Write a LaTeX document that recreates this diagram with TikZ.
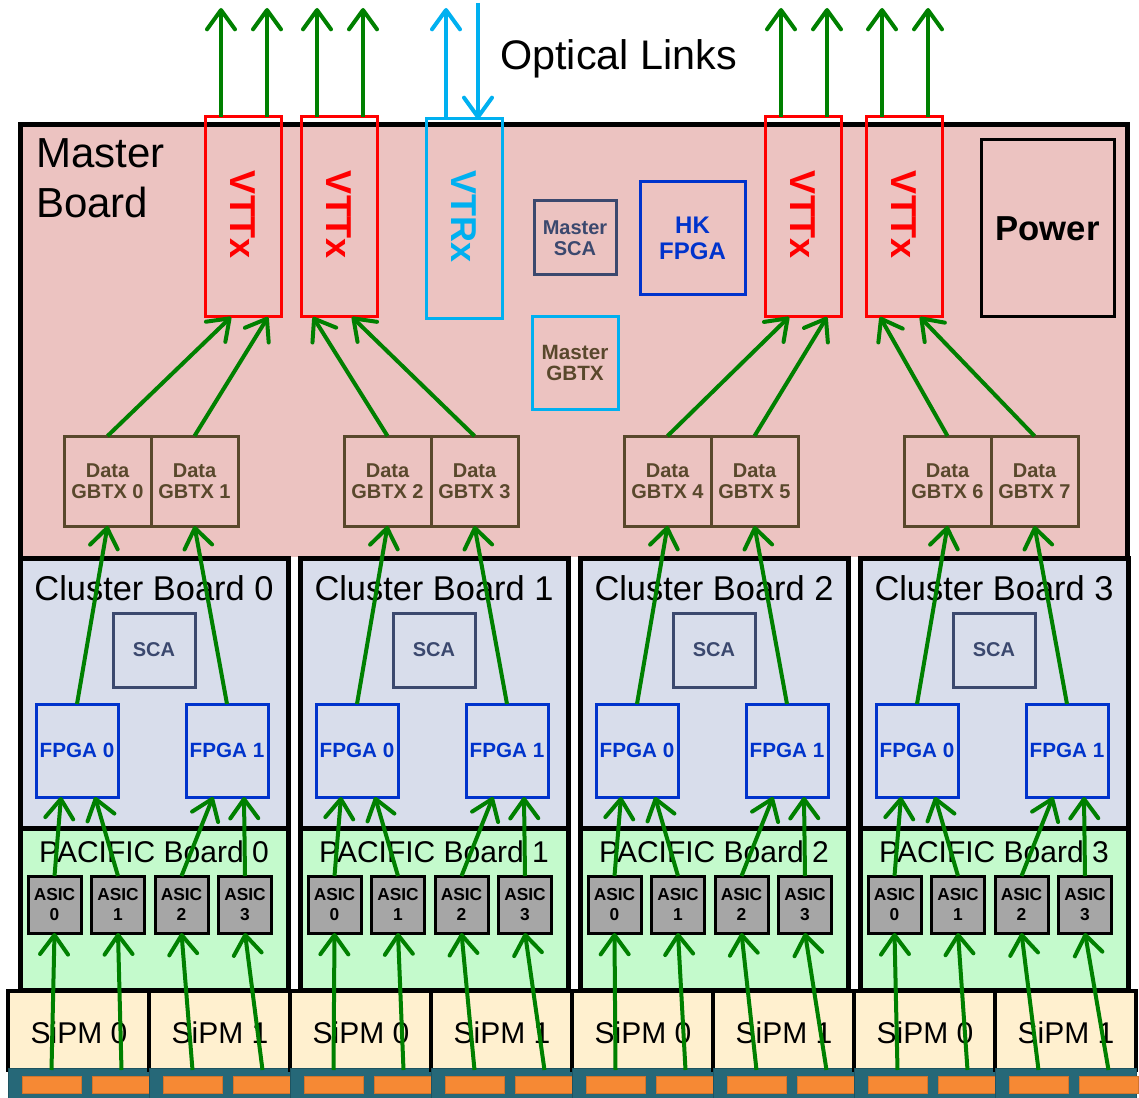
\documentclass[tikz,border=0pt]{standalone}
\usepackage{fontspec}
\setmainfont{Liberation Sans}
\usetikzlibrary{arrows.meta,calc}
\definecolor{mpink}{RGB}{236,195,193}
\definecolor{cfill}{RGB}{216,221,235}
\definecolor{pfill}{RGB}{196,250,204}
\definecolor{sfill}{RGB}{255,240,207}
\definecolor{tealc}{RGB}{38,104,120}
\definecolor{orangec}{RGB}{246,137,52}
\definecolor{asicg}{RGB}{166,166,166}
\definecolor{lgreen}{RGB}{0,128,0}
\definecolor{cyanc}{RGB}{0,176,240}
\definecolor{redc}{RGB}{255,0,0}
\definecolor{fblue}{RGB}{0,51,204}
\definecolor{slate}{RGB}{59,72,110}
\definecolor{brownc}{RGB}{89,72,44}
\begin{document}
\begin{tikzpicture}[x=0.75pt,y=-0.75pt,
  sz/.style 2 args={minimum width=#1*0.75pt, minimum height=#2*0.75pt, inner sep=0pt, outer sep=0pt},
  arr/.style={draw=lgreen, line width=3pt, -{Straight Barb[length=14.5pt,width=21pt,round]}},
  vttbox/.style={draw=redc, line width=2.25pt},
  vttlab/.style={text=redc, rotate=-90, inner sep=0pt, font=\bfseries\fontsize{27}{30}\selectfont},
  vtrlab/.style={text=cyanc, rotate=-90, inner sep=0pt, font=\bfseries\fontsize{27}{30}\selectfont},
  scabox/.style={draw=slate, line width=2.25pt, text=slate, align=center, font=\bfseries\fontsize{15}{16}\selectfont},
  fpgabox/.style={draw=fblue, line width=2.25pt, text=fblue, align=center, font=\bfseries\fontsize{15.5}{16}\selectfont},
  gbtxbox/.style={draw=brownc, line width=2.25pt, text=brownc, align=center, font=\bfseries\fontsize{15}{16}\selectfont},
  board/.style={draw=black, line width=3.75pt},
  btitle/.style={anchor=base, inner sep=0pt, font=\fontsize{25.8}{30}\selectfont},
  ptitle/.style={anchor=base, inner sep=0pt, font=\fontsize{22.5}{26}\selectfont},
  asicbox/.style={draw=black, fill=asicg, line width=2.25pt, align=center, font=\bfseries\fontsize{13}{15}\selectfont},
  sipmbox/.style={draw=black, fill=sfill, line width=3pt},
  stripbox/.style={fill=tealc, draw=tealc!80!black, line width=0.4pt},
  orbox/.style={fill=orangec, draw=orangec!85!black, line width=0.4pt}
]
\useasboundingbox (0,0) rectangle (1139,1098);

% ---------------- Master board
\fill[mpink] (20,125) rectangle (1127,557);
\draw[line width=3.75pt] (20,557) -- (20,125) -- (1127,125) -- (1127,557);
\node[anchor=base west, inner sep=0pt, font=\fontsize{31.5}{35}\selectfont] (mbt1) at (36,168) {Master};
\node[anchor=base west, inner sep=0pt, font=\fontsize{31.5}{35}\selectfont] (mbt2) at (36,218) {Board};
\node[anchor=base west, inner sep=0pt, font=\fontsize{31}{36}\selectfont] (optl) at (500,70) {Optical Links};

\foreach \n/\cx in {1/243,2/339,3/803,4/904}{
  \node[vttbox, sz={76}{200}] (v\n) at (\cx,217) {};
  \node[vttlab] (vl\n) at (\cx,215) {VTTx};
  \coordinate (vta\n) at ($(v\n.north west)+(16,-109)$);
  \coordinate (vtb\n) at ($(v\n.north west)+(62,-109)$);
}
\node[draw=cyanc, line width=2.25pt, sz={76}{200}] (vr) at (464,219) {};
\node[vtrlab] (vrl) at (464,217) {VTRx};
\coordinate (vrup) at (446,8);
\coordinate (vrdn) at (478,3);

\node[scabox, sz={82}{74}] (msca) at (575,238) {Master\\SCA};
\node[draw=fblue, line width=2.25pt, text=fblue, align=center, sz={105}{113}, font=\bfseries\fontsize{18}{19}\selectfont] (hk) at (692.5,238.5) {HK\\FPGA};
\node[draw=cyanc, line width=2.25pt, text=brownc, align=center, sz={86}{92}, font=\bfseries\fontsize{15.5}{16}\selectfont] (mgbtx) at (575,363) {Master\\GBTX};
\node[draw=black, line width=2.25pt, sz={133}{177}, font=\bfseries\fontsize{26}{30}\selectfont] (pwr) at (1047.5,228.5) {Power};

\foreach \j in {0,...,3}{
  \pgfmathsetmacro\xg{64+280*\j}
  \pgfmathtruncatemacro\ga{2*\j}
  \pgfmathtruncatemacro\gb{2*\j+1}
  \node[gbtxbox, sz={87}{90}] (g\ga) at (\xg+43.5,481) {Data\\GBTX \ga};
  \node[gbtxbox, sz={87}{90}] (g\gb) at (\xg+130.5,481) {Data\\GBTX \gb};
}

% ---------------- Cluster and PACIFIC boards
\foreach \k in {0,...,3}{
  \pgfmathsetmacro\xc{20+280*\k}
  \node[board, fill=cfill, sz={268}{270}] (cb\k) at (\xc+134,693) {};
  \node[btitle] (cbt\k) at (\xc+134,600) {Cluster Board \k};
  \node[scabox, sz={82}{74}] (sca\k) at (\xc+134,650) {SCA};
  \node[fpgabox, sz={82}{93}] (fa\k) at (\xc+57,750.5) {FPGA 0};
  \node[fpgabox, sz={82}{93}] (fb\k) at (\xc+207,750.5) {FPGA 1};
  \node[board, fill=pfill, sz={268}{162}] (pb\k) at (\xc+134,909) {};
  \node[ptitle] (pbt\k) at (\xc+134,862) {PACIFIC Board \k};
  \foreach \i in {0,...,3}{
    \node[asicbox, sz={53}{57}] (as\k\i) at (\xc+34.5+63.5*\i,904.5) {ASIC\\\i};
  }
}

% ---------------- SiPMs
\foreach \m in {0,...,7}{
  \pgfmathsetmacro\xs{8+141*\m}
  \pgfmathtruncatemacro\lab{mod(\m,2)}
  \node[sipmbox, sz={141}{79}] (s\m) at (\xs+70.5,1030.5) {};
  \node[ptitle] (sl\m) at (\xs+71,1043) {SiPM \lab};
  \node[stripbox, sz={141}{30}] (t\m) at (\xs+70.5,1083.5) {};
  \node[orbox, sz={59}{17}] (oa\m) at (\xs+43.5,1084.5) {};
  \node[orbox, sz={59}{17}] (ob\m) at (\xs+113.5,1084.5) {};
}

% ---------------- Connectors
\foreach \n in {1,...,4}{
  \draw[arr] ($(v\n.north west)+(16,0)$) -- (vta\n);
  \draw[arr] ($(v\n.north west)+(62,0)$) -- (vtb\n);
}
\draw[arr, draw=cyanc] ($(vr.north west)+(20,0)$) -- (vrup);
\draw[arr, draw=cyanc] (vrdn) -- ($(vr.north west)+(52,0)$);

\draw[arr] (g0.north) -- ($(v1.south west)+(26,0)$);
\draw[arr] (g1.north) -- ($(v1.south west)+(63,0)$);
\draw[arr] (g2.north) -- ($(v2.south west)+(12,0)$);
\draw[arr] (g3.north) -- ($(v2.south west)+(51,0)$);
\draw[arr] (g4.north) -- ($(v3.south west)+(24,0)$);
\draw[arr] (g5.north) -- ($(v3.south west)+(62,0)$);
\draw[arr] (g6.north) -- ($(v4.south west)+(14,0)$);
\draw[arr] (g7.north) -- ($(v4.south west)+(54,0)$);

\foreach \k in {0,...,3}{
  \pgfmathtruncatemacro\ga{2*\k}
  \pgfmathtruncatemacro\gb{2*\k+1}
  \draw[arr] (fa\k.north) -- (g\ga.south);
  \draw[arr] (fb\k.north) -- (g\gb.south);
  \draw[arr] (as\k0.north) -- ($(fa\k.south west)+(25,0)$);
  \draw[arr] (as\k1.north) -- ($(fa\k.south west)+(59,0)$);
  \draw[arr] (as\k2.north) -- ($(fb\k.south west)+(27,0)$);
  \draw[arr] (as\k3.north) -- ($(fb\k.south west)+(58,0)$);
  \pgfmathtruncatemacro\sa{2*\k}
  \pgfmathtruncatemacro\sb{2*\k+1}
  \draw[arr] ($(oa\sa.north)+(0,-6)$) -- (as\k0.south);
  \draw[arr] ($(ob\sa.north)+(0,-6)$) -- (as\k1.south);
  \draw[arr] ($(oa\sb.north)+(0,-6)$) -- (as\k2.south);
  \draw[arr] ($(ob\sb.north)+(0,-6)$) -- (as\k3.south);
}
\end{tikzpicture}
\end{document}
